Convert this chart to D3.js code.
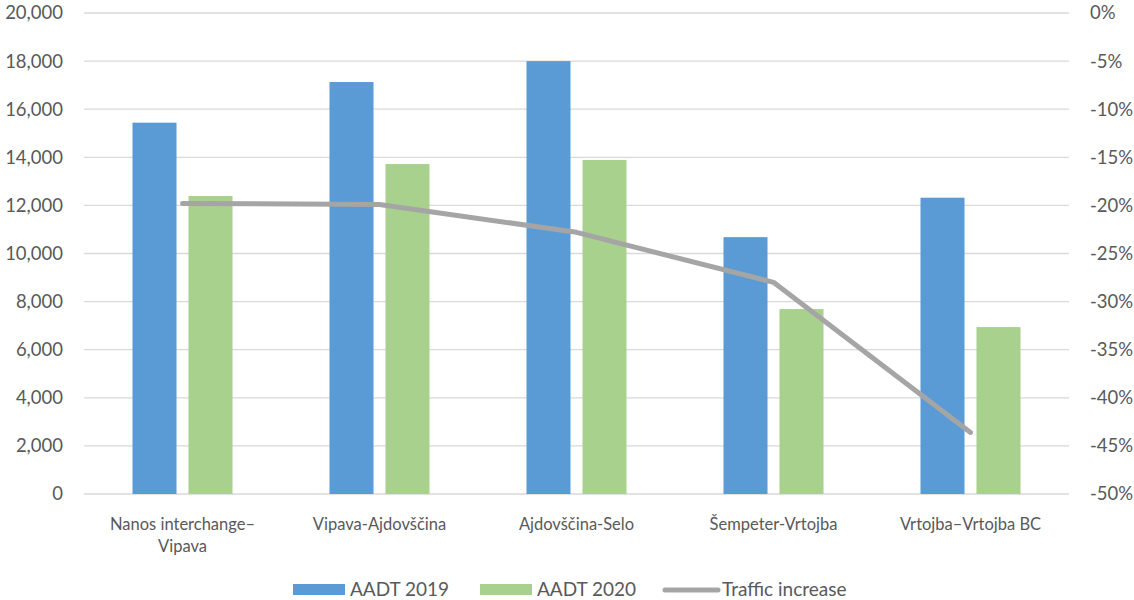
<!DOCTYPE html>
<html>
<head>
<meta charset="utf-8">
<script src="https://cdn.jsdelivr.net/npm/d3@7"></script>
<style>
  html, body { margin: 0; padding: 0; background: #fff; }
  svg { display: block; }
  text { font-family: Lato, "Open Sans", sans-serif; fill: #595959; }
</style>
</head>
<body>
<svg id="chart" width="1134" height="600"></svg>
<script>
// Road sections (each label is split into its display lines)
const sections = [
  ["Nanos interchange–", "Vipava"],
  ["Vipava-Ajdovščina"],
  ["Ajdovščina-Selo"],
  ["Šempeter-Vrtojba"],
  ["Vrtojba–Vrtojba BC"]
];
const sectionKeys = sections.map(s => s.join(" "));

// Annual average daily traffic
const aadt2019 = [15440, 17130, 18000, 10680, 12320];
const aadt2020 = [12390, 13720, 13890, 7690, 6940];
// Change between the two years, percent
const trafficIncrease = [-19.8, -19.9, -22.8, -28.0, -43.6];

const leftTicks = [0, 2000, 4000, 6000, 8000, 10000, 12000, 14000, 16000, 18000, 20000];
const rightTicks = [0, -5, -10, -15, -20, -25, -30, -35, -40, -45, -50];

const seriesNames = ["AADT 2019", "AADT 2020", "Traffic increase"];
const colors = { bar2019: "#5B9BD5", bar2020: "#A9D18E", line: "#A5A5A5", grid: "#D9D9D9" };

const svg = d3.select("#chart");
const plot = { left: 84, right: 1069, top: 13, bottom: 494 };

const x = d3.scaleBand().domain(sectionKeys).range([plot.left, plot.right]);
const xInner = d3.scaleBand().domain(["2019", "2020"]).range([0, x.bandwidth()])
  .paddingInner(0.214).paddingOuter(0.866);
const yLeft = d3.scaleLinear().domain([0, 20000]).range([plot.bottom, plot.top]);
const yRight = d3.scaleLinear().domain([-50, 0]).range([plot.bottom, plot.top]);

// Gridlines
svg.append("g")
  .selectAll("line").data(leftTicks).join("line")
  .attr("x1", plot.left).attr("x2", plot.right)
  .attr("y1", d => yLeft(d)).attr("y2", d => yLeft(d))
  .attr("stroke", colors.grid).attr("stroke-width", 1.3);

// Left axis
const leftAxis = svg.append("g")
  .attr("transform", `translate(${plot.left - 21},0)`)
  .call(d3.axisLeft(yLeft).tickValues(leftTicks).tickSize(0).tickPadding(0).tickFormat(d3.format(",")));
leftAxis.select(".domain").remove();

// Right axis
const rightAxis = svg.append("g")
  .attr("transform", `translate(${plot.right + 21},0)`)
  .call(d3.axisRight(yRight).tickValues(rightTicks).tickSize(0).tickPadding(0).tickFormat(d => d + "%"));
rightAxis.select(".domain").remove();

svg.selectAll(".tick text")
  .attr("font-family", null)
  .attr("font-size", null)
  .attr("fill", "#595959")
  .style("font-size", "18.5px");

// Bars
const groups = svg.append("g").selectAll("g").data(sectionKeys).join("g")
  .attr("transform", d => `translate(${x(d)},0)`);
groups.append("rect")
  .attr("x", xInner("2019")).attr("width", xInner.bandwidth())
  .attr("y", (d, i) => yLeft(aadt2019[i]))
  .attr("height", (d, i) => yLeft(0) - yLeft(aadt2019[i]))
  .attr("fill", colors.bar2019);
groups.append("rect")
  .attr("x", xInner("2020")).attr("width", xInner.bandwidth())
  .attr("y", (d, i) => yLeft(aadt2020[i]))
  .attr("height", (d, i) => yLeft(0) - yLeft(aadt2020[i]))
  .attr("fill", colors.bar2020);

// Traffic change line (right axis)
const line = d3.line()
  .x((d, i) => x(sectionKeys[i]) + x.bandwidth() / 2)
  .y(d => yRight(d));
svg.append("path")
  .datum(trafficIncrease)
  .attr("d", line)
  .attr("fill", "none")
  .attr("stroke", colors.line)
  .attr("stroke-width", 5)
  .attr("stroke-linecap", "round")
  .attr("stroke-linejoin", "round");

// Category labels
const cat = svg.append("g").selectAll("text").data(sections).join("text")
  .attr("x", (d, i) => x(sectionKeys[i]) + x.bandwidth() / 2)
  .attr("y", 530)
  .attr("text-anchor", "middle")
  .style("font-size", "16.5px");
cat.selectAll("tspan").data(d => d).join("tspan")
  .attr("x", function () { return d3.select(this.parentNode).attr("x"); })
  .attr("dy", (d, i) => i === 0 ? 0 : 22)
  .text(d => d);

// Legend
const legend = svg.append("g");
const legendItems = [
  { name: seriesNames[0], type: "rect", color: colors.bar2019, x: 293 },
  { name: seriesNames[1], type: "rect", color: colors.bar2020, x: 480 },
  { name: seriesNames[2], type: "line", color: colors.line, x: 665 }
];
legendItems.forEach(item => {
  if (item.type === "rect") {
    legend.append("rect").attr("x", item.x).attr("y", 584).attr("width", 52).attr("height", 11)
      .attr("fill", item.color);
    legend.append("text").attr("x", item.x + 57).attr("y", 596).text(item.name)
      .style("font-size", "19px");
  } else {
    legend.append("line").attr("x1", item.x).attr("x2", item.x + 53).attr("y1", 590).attr("y2", 590)
      .attr("stroke", item.color).attr("stroke-width", 5).attr("stroke-linecap", "round");
    legend.append("text").attr("x", item.x + 57).attr("y", 596).text(item.name)
      .style("font-size", "19px");
  }
});
</script>
</body>
</html>
